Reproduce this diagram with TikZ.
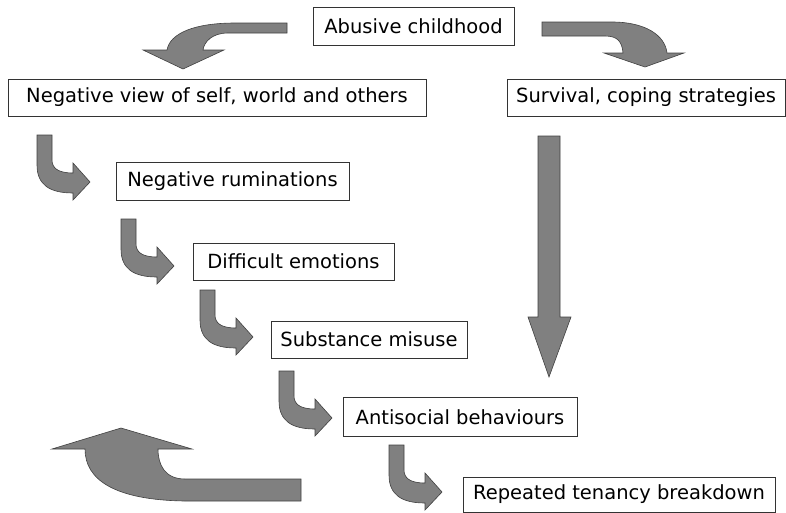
\documentclass[tikz,border=0pt]{standalone}
\usepackage{fontspec}
\setmainfont{DejaVu Sans}
\tikzset{
    box/.style={draw=black!80,line width=0.8pt,fill=white,inner sep=0pt,font=\fontsize{19.5}{23}\selectfont},
    blockarrow/.style={draw=black!75,line width=0.6pt,fill=black!50},
    hook/.pic={
        \path[blockarrow] (-53,-47) -- (-38,-47) -- (-38,-22) .. controls (-38,-14) and (-32,-9) .. (-17,-9)
            -- (-17,-19) -- (0,0) -- (-17,18) -- (-17,11) .. controls (-40,11) and (-53,3) .. (-53,-17) -- cycle;
    }
}
\begin{document}
\begin{tikzpicture}[x=1pt,y=-1pt]
    \useasboundingbox (0,0) rectangle (786,512);
    %draw boxes
    \node[box,minimum width=201,minimum height=38] (abuse) at (413.5,26) {Abusive childhood};
    \node[box,minimum width=418,minimum height=37] (negview) at (217,97.5) {Negative view of self, world and others};
    \node[box,minimum width=278,minimum height=37] (survive) at (646,97.5) {Survival, coping strategies};
    \node[box,minimum width=233,minimum height=38] (rumin) at (232.5,181) {Negative ruminations};
    \node[box,minimum width=201,minimum height=37] (emotion) at (293.5,261.5) {Difficult emotions};
    \node[box,minimum width=196,minimum height=37] (misuse) at (369,339.5) {Substance misuse};
    \node[box,minimum width=234,minimum height=39] (antisoc) at (460,417) {Antisocial behaviours};
    \node[box,minimum width=312,minimum height=35] (tenancy) at (619,494.5) {Repeated tenancy breakdown};
    %draw curved arrows from the top box
    \path[blockarrow] (287,23) -- (287,33) -- (228,33) .. controls (212,33) and (204,42) .. (203,50)
        -- (224,50) -- (183,69) -- (143,50) -- (167,50) .. controls (170,33) and (195,23) .. (235,23) -- cycle;
    \path[blockarrow] (542,22) -- (612,22) .. controls (645,22) and (665,35) .. (667,53)
        -- (684,53) -- (645,67) -- (604,53) -- (623,53) .. controls (622,42) and (618,36) .. (605,36) -- (542,36) -- cycle;
    %draw hooks down the chain
    \foreach \tx/\ty in {90/182,174/266,253/337,332/418,442/492}
        {%
            \pic at (\tx,\ty) {hook};
        }
    %draw long arrow and loop back
    \path[blockarrow] (538,136) -- (560,136) -- (560,317) -- (571,317) -- (549,377) -- (528,317) -- (538,317) -- cycle;
    \path[blockarrow] (301,479) -- (301,501) -- (185,501) .. controls (115,500) and (85,480) .. (85,449)
        -- (52,449) -- (121,428) -- (192,449) -- (158,449) .. controls (158,465) and (165,479) .. (185,479) -- cycle;
\end{tikzpicture}
\end{document}
